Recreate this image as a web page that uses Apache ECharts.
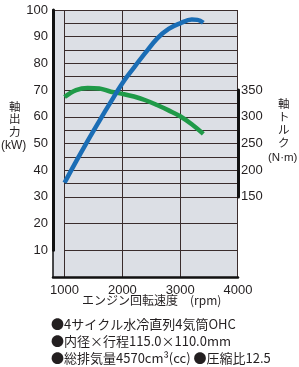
<!DOCTYPE html>
<html><head><meta charset="utf-8">
<script src="https://cdn.jsdelivr.net/npm/echarts@6/dist/echarts.min.js"></script>
<style>
html,body{margin:0;padding:0;background:#fff;}
#wrap{position:relative;width:299px;height:367px;}
#bg{position:absolute;left:53px;top:10px;width:185px;height:267px;box-sizing:border-box;background:#dcdfe5;border-top:1.5px solid #3a2c2c;border-right:1.5px solid #3a2c2c;}
#c{position:absolute;left:0;top:0;width:299px;height:367px;}
</style>
</head><body><div id="wrap"><div id="bg"></div><div id="c"></div></div>
<script>
// ---- data ----
const rpmPower = [1000,1200,1400,1600,1800,2000,2200,2400,2600,2800,3000,3200,3300,3400];
const powerKW  = [35.3,43.3,51.0,58.4,65.6,72.6,78.4,84.0,89.3,92.9,95.0,96.4,96.3,95.2];
const rpmTorque = [1000,1200,1400,1600,1800,2000,2200,2400,2600,2800,3000,3200,3400];
const torqueNm  = [337,350,354,353,347,343,338,331,322,312,301,286,268];
const xTickLabels = [1000,2000,3000,4000];
const kwTickLabels = [10,20,30,40,50,60,70,80,90,100];
const nmTickLabels = [150,200,250,300,350];
const notes = ['●4サイクル水冷直列4気筒OHC','●内径×行程115.0×110.0mm','●総排気量4570cm³(cc) ●圧縮比12.5'];

const GL = '#3a2c2c';
const numFont = 'Liberation Sans';
const jpFont = 'Noto Sans CJK JP';

const X0 = 800, X1 = 4000, Y0 = 0, Y1 = 100;
const PL = 53, PR = 61, PT = 10, PB = 90;
const PW = 299 - PL - PR, PH = 367 - PT - PB;
const px = v => PL + (v - X0) / (X1 - X0) * PW;
const py = v => PT + (Y1 - v) / (Y1 - Y0) * PH;
const NM_PER_KW = 5; // torque axis 0..500 aligned with power axis 0..100

const chart = echarts.init(document.getElementById('c'), null, {renderer:'canvas'});
chart.setOption({
  animation:false,
  grid:[
    {left:px(1000), right:PR, top:PT, bottom:PB, show:true, backgroundColor:'transparent', borderWidth:0},
    {left:px(1000), right:PR, top:PT, height:py(30)-PT, show:true, backgroundColor:'transparent', borderWidth:0},
    {left:PL, right:PR, top:PT, bottom:PB, show:false},
    {left:PL, right:PR, top:PT, height:py(10)-PT, show:false},
    {left:PL, right:PR, top:py(70), height:py(30)-py(70), show:false}
  ],
  xAxis:[
    {gridIndex:0, type:'value', min:1000, max:4000, interval:1000,
     axisLine:{show:false}, axisTick:{show:false},
     axisLabel:{color:'#231f20', fontSize:13, fontFamily:numFont, margin:7, showMinLabel:true, showMaxLabel:true,
       formatter:v => xTickLabels.indexOf(v) >= 0 ? String(v) : ''},
     splitLine:{show:true, showMinLine:true, showMaxLine:false, lineStyle:{color:GL, width:1}}},
    {gridIndex:1, type:'value', min:1000, max:4000, interval:1000,
     axisLine:{show:false}, axisTick:{show:false}, axisLabel:{show:false}, splitLine:{show:false}},
    {gridIndex:2, type:'value', min:X0, max:X1,
     axisLine:{show:true, onZero:false, lineStyle:{color:'#111', width:2.5}},
     axisTick:{show:false}, axisLabel:{show:false}, splitLine:{show:false}},
    {gridIndex:3, type:'value', min:X0, max:X1, show:false},
    {gridIndex:4, type:'value', min:X0, max:X1, show:false}
  ],
  yAxis:[
    {gridIndex:0, type:'value', min:Y0, max:Y1, interval:10,
     axisLine:{show:false}, axisTick:{show:false}, axisLabel:{show:false},
     splitLine:{show:true, showMinLine:false, showMaxLine:false, lineStyle:{color:GL, width:1}}},
    {gridIndex:1, type:'value', min:30*NM_PER_KW, max:100*NM_PER_KW, interval:5*NM_PER_KW,
     axisLine:{show:false}, axisTick:{show:false}, axisLabel:{show:false},
     splitLine:{show:true, showMinLine:true, showMaxLine:false, lineStyle:{color:GL, width:1}}},
    {gridIndex:2, type:'value', min:Y0, max:Y1, position:'left',
     axisLine:{show:true, onZero:false, lineStyle:{color:'#111', width:1.5}},
     axisTick:{show:false}, axisLabel:{show:false}, splitLine:{show:false}},
    {gridIndex:3, type:'value', min:10, max:100, interval:10, position:'left',
     axisLine:{show:true, onZero:false, lineStyle:{color:'#111', width:3}},
     axisTick:{show:false}, splitLine:{show:false},
     axisLabel:{color:'#231f20', fontSize:13, fontFamily:numFont, margin:5,
       formatter:v => kwTickLabels.indexOf(v) >= 0 ? String(v) : ''}},
    {gridIndex:4, type:'value', min:150, max:350, interval:50, position:'right',
     axisLine:{show:true, onZero:false, lineStyle:{color:'#111', width:3}},
     axisTick:{show:false}, splitLine:{show:false},
     axisLabel:{color:'#231f20', fontSize:13, fontFamily:numFont, margin:3,
       formatter:v => nmTickLabels.indexOf(v) >= 0 ? String(v) : ''}}
  ],
  series:[
    {type:'line', xAxisIndex:1, yAxisIndex:1, z:3, smooth:0.4, symbol:'none', clip:false,
     data: rpmTorque.map((r,i)=>[r, torqueNm[i]]),
     lineStyle:{color:'#1f9a48', width:4.5, cap:'butt'}},
    {type:'line', xAxisIndex:0, yAxisIndex:0, z:4, smooth:0.4, symbol:'none', clip:false,
     data: rpmPower.map((r,i)=>[r, powerKW[i]]),
     lineStyle:{color:'#1a6db5', width:4.5, cap:'butt'}}
  ],
  graphic:[
    {type:'text', left:9, top:100, style:{text:'軸\n出\n力', fontSize:11.5, lineHeight:12.5, fontFamily:jpFont, fill:'#231f20'}},
    {type:'text', left:1, top:140, style:{text:'(kW)', fontSize:12, fontFamily:numFont, fill:'#231f20'}},
    {type:'text', left:278, top:97, style:{text:'軸\nト\nル\nク', fontSize:11.5, lineHeight:13, fontFamily:jpFont, fill:'#231f20'}},
    {type:'text', left:268, top:152, style:{text:'(N·m)', fontSize:11.5, fontFamily:numFont, fill:'#231f20'}},
    {type:'text', left:82, top:294, style:{text:'エンジン回転速度　(rpm)', fontSize:12, fontFamily:jpFont, fill:'#231f20'}},
    {type:'text', left:51, top:318, style:{text:notes[0], fontSize:13, fontFamily:jpFont, fill:'#231f20'}},
    {type:'text', left:51, top:335, style:{text:notes[1], fontSize:13, fontFamily:jpFont, fill:'#231f20'}},
    {type:'text', left:51, top:352, style:{text:notes[2], fontSize:13, fontFamily:jpFont, fill:'#231f20'}}
  ]
});
</script></body></html>
